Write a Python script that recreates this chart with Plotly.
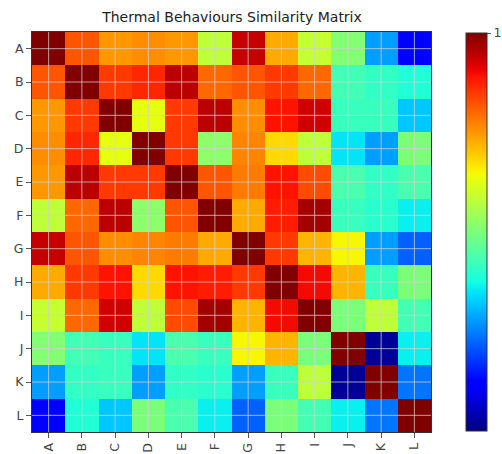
import plotly.graph_objects as go

labels = ["A", "B", "C", "D", "E", "F", "G", "H", "I", "J", "K", "L"]

row_A = [1.00, 0.82, 0.75, 0.76, 0.75, 0.58, 0.94, 0.73, 0.59, 0.51, 0.28, 0.12]
row_B = [0.82, 1.00, 0.85, 0.87, 0.95, 0.80, 0.82, 0.85, 0.80, 0.43, 0.41, 0.39]
row_C = [0.75, 0.85, 1.00, 0.63, 0.85, 0.95, 0.76, 0.89, 0.93, 0.42, 0.42, 0.32]
row_D = [0.76, 0.87, 0.63, 1.00, 0.85, 0.52, 0.77, 0.68, 0.58, 0.35, 0.28, 0.50]
row_E = [0.75, 0.95, 0.85, 0.85, 1.00, 0.82, 0.78, 0.89, 0.83, 0.44, 0.41, 0.44]
row_F = [0.58, 0.80, 0.95, 0.52, 0.82, 1.00, 0.73, 0.88, 0.97, 0.42, 0.40, 0.36]
row_G = [0.94, 0.82, 0.76, 0.77, 0.78, 0.73, 1.00, 0.85, 0.72, 0.65, 0.28, 0.22]
row_H = [0.73, 0.85, 0.89, 0.68, 0.89, 0.88, 0.85, 1.00, 0.90, 0.72, 0.42, 0.50]
row_I = [0.59, 0.80, 0.93, 0.58, 0.83, 0.97, 0.72, 0.90, 1.00, 0.50, 0.58, 0.43]
row_J = [0.51, 0.43, 0.42, 0.35, 0.44, 0.42, 0.65, 0.72, 0.50, 1.00, 0.02, 0.36]
row_K = [0.28, 0.41, 0.42, 0.28, 0.41, 0.40, 0.28, 0.42, 0.58, 0.02, 1.00, 0.24]
row_L = [0.12, 0.39, 0.32, 0.50, 0.44, 0.36, 0.22, 0.50, 0.43, 0.36, 0.24, 1.00]

matrix = [row_A, row_B, row_C, row_D, row_E, row_F,
          row_G, row_H, row_I, row_J, row_K, row_L]

idx = list(range(len(labels)))

# matplotlib "jet" segment data
_jet = {
    "r": [(0, 0), (0.35, 0), (0.66, 1), (0.89, 1), (1, 0.5)],
    "g": [(0, 0), (0.125, 0), (0.375, 1), (0.64, 1), (0.91, 0), (1, 0)],
    "b": [(0, 0.5), (0.11, 1), (0.34, 1), (0.65, 0), (1, 0)],
}


def _interp(pts, t):
    for (x0, y0), (x1, y1) in zip(pts[:-1], pts[1:]):
        if x0 <= t <= x1:
            return y0 + (y1 - y0) * (t - x0) / (x1 - x0) if x1 > x0 else y1
    return pts[-1][1]


jet_scale = []
for k in range(65):
    t = k / 64
    r, g, b = (_interp(_jet[c], t) for c in "rgb")
    jet_scale.append([t, f"rgb({round(r*255)},{round(g*255)},{round(b*255)})"])

fig = go.Figure()
fig.add_trace(go.Heatmap(
    z=matrix, x=idx, y=idx,
    colorscale=jet_scale, zmin=0, zmax=1,
    colorbar=dict(
        thicknessmode="pixels", thickness=21,
        lenmode="pixels", len=398,
        x=1.0877, xanchor="left", xpad=0,
        y=0.5, yanchor="middle", ypad=0,
        outlinewidth=1, outlinecolor="#333",
        tickvals=[1], ticktext=["1"], ticks="outside", ticklen=4, tickcolor="#555",
        tickfont=dict(family="DejaVu Sans", size=12.5, color="#444"),
    ),
))

grid_shapes = []
for i in idx:
    grid_shapes.append(dict(type="line", xref="x", yref="paper", x0=i, x1=i, y0=0, y1=1,
                            line=dict(color="rgba(210,210,210,0.75)", width=1), layer="above"))
    grid_shapes.append(dict(type="line", xref="paper", yref="y", x0=0, x1=1, y0=i, y1=i,
                            line=dict(color="rgba(210,210,210,0.75)", width=1), layer="above"))
fig.update_layout(shapes=grid_shapes)

axis_common = dict(
    tickvals=idx, ticktext=labels, ticks="outside", ticklen=5, tickcolor="#555",
    showgrid=False, zeroline=False, showline=True, mirror=True, linecolor="#333", linewidth=1,
    tickfont=dict(family="DejaVu Sans", size=12.5, color="#444"),
)
fig.update_xaxes(**axis_common, tickangle=-90, range=[-0.5, 11.5])
fig.update_yaxes(**axis_common, range=[11.5, -0.5])

fig.update_layout(
    width=502, height=454,
    margin=dict(l=32, r=71, t=32, b=22, autoexpand=False),
    paper_bgcolor="white", plot_bgcolor="white",
    title=dict(text="Thermal Behaviours Similarity Matrix", x=(232) / 502, xanchor="center",
               y=1 - 17 / 454, yanchor="middle",
               font=dict(family="DejaVu Sans", size=14, color="#222")),
)

fig.write_html("out.html")
